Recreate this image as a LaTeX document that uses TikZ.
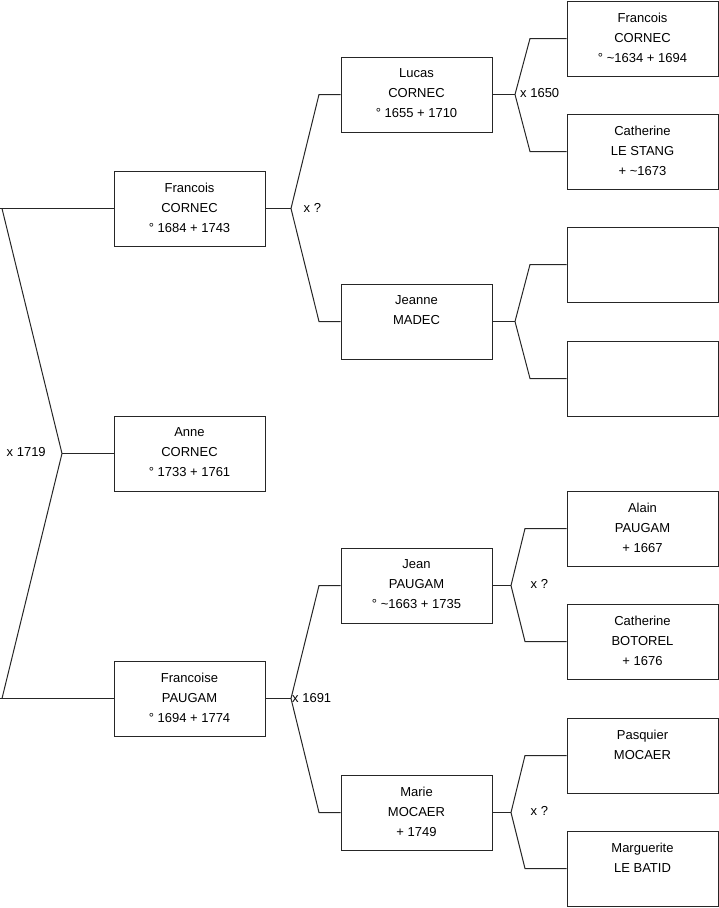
\documentclass[tikz,border=0pt]{standalone}
\usepackage{fontspec}
\setmainfont{Liberation Sans}
\begin{document}
\begin{tikzpicture}[x=1pt,y=-1pt,
  every node/.style={font=\fontsize{13}{20}\selectfont},
  pbox/.style={draw=black!85, line width=1pt, minimum width=151pt, minimum height=75pt, inner sep=0pt},
  ptext/.style={anchor=north, align=center, inner sep=0pt},
  conn/.style={draw=black!85, line width=1pt},
  mlabel/.style={anchor=west, inner sep=0pt}]
\useasboundingbox (0,0) rectangle (719,908);
% generation 1
\node[pbox] (F)  at (189.5,208.5) {};
\node[pbox] (A)  at (189.5,453.5) {};
\node[pbox] (FP) at (189.5,698.5) {};
% generation 2
\node[pbox] (L)  at (416.5,94.5) {};
\node[pbox] (J)  at (416.5,321.5) {};
\node[pbox] (JP) at (416.5,585.5) {};
\node[pbox] (M)  at (416.5,812.5) {};
% generation 3
\node[pbox] (g1) at (642.5,38.5) {};
\node[pbox] (g2) at (642.5,151.5) {};
\node[pbox] (g3) at (642.5,264.5) {};
\node[pbox] (g4) at (642.5,378.5) {};
\node[pbox] (g5) at (642.5,528.5) {};
\node[pbox] (g6) at (642.5,641.5) {};
\node[pbox] (g7) at (642.5,755.5) {};
\node[pbox] (g8) at (642.5,868.5) {};
% texts
\tikzset{tshift/.style={yshift=-12pt}}
\node[ptext] (tF)  at ([tshift]F.north)  {Francois\\CORNEC\\° 1684 + 1743};
\node[ptext] (tA)  at ([tshift]A.north)  {Anne\\CORNEC\\° 1733 + 1761};
\node[ptext] (tFP) at ([tshift]FP.north) {Francoise\\PAUGAM\\° 1694 + 1774};
\node[ptext] (tL)  at ([tshift]L.north)  {Lucas\\CORNEC\\° 1655 + 1710};
\node[ptext] (tJ)  at ([tshift]J.north)  {Jeanne\\MADEC};
\node[ptext] (tJP) at ([tshift]JP.north) {Jean\\PAUGAM\\° \textasciitilde1663 + 1735};
\node[ptext] (tM)  at ([tshift]M.north)  {Marie\\MOCAER\\+ 1749};
\node[ptext] (t1)  at ([tshift]g1.north) {Francois\\CORNEC\\° \textasciitilde1634 + 1694};
\node[ptext] (t2)  at ([tshift]g2.north) {Catherine\\LE STANG\\+ \textasciitilde1673};
\node[ptext] (t5)  at ([tshift]g5.north) {Alain\\PAUGAM\\+ 1667};
\node[ptext] (t6)  at ([tshift]g6.north) {Catherine\\BOTOREL\\+ 1676};
\node[ptext] (t7)  at ([tshift]g7.north) {Pasquier\\MOCAER};
\node[ptext] (t8)  at ([tshift]g8.north) {Marguerite\\LE BATID};
% root fork
\coordinate (r0) at (0,208.5);
\coordinate (r1) at (2,208.5);
\coordinate (ra) at (62,453.5);
\coordinate (r2) at (2,698.5);
\coordinate (r3) at (0,698.5);
\draw[conn] (F.west) -- (r0);
\draw[conn] (r1) -- (ra) -- (r2);
\draw[conn] (ra) -- (A.west);
\draw[conn] (FP.west) -- (r3);
\node[mlabel] (x1719) at (6.5,452) {x 1719};
% forks gen1 -> gen2
\coordinate (fa) at (291,208.5);
\coordinate (fa1) at (319,94.5);
\coordinate (fa2) at (319,321.5);
\draw[conn] (F.east) -- (fa);
\draw[conn] (L.west) -- (fa1) -- (fa) -- (fa2) -- (J.west);
\node[mlabel] (xF) at (303.5,207.5) {x ?};
\coordinate (pa) at (291,698.5);
\coordinate (pa1) at (319,585.5);
\coordinate (pa2) at (319,812.5);
\draw[conn] (FP.east) -- (pa);
\draw[conn] (JP.west) -- (pa1) -- (pa) -- (pa2) -- (M.west);
\node[mlabel] (xFP) at (292,698.5) {x 1691};
% forks gen2 -> gen3
\coordinate (la) at (515,94.5);
\coordinate (la1) at (530,38.5);
\coordinate (la2) at (530,151.5);
\draw[conn] (L.east) -- (la);
\draw[conn] (g1.west) -- (la1) -- (la) -- (la2) -- (g2.west);
\node[mlabel] (xL) at (520,93.5) {x 1650};
\coordinate (ja) at (515,321.5);
\coordinate (ja1) at (530,264.5);
\coordinate (ja2) at (530,378.5);
\draw[conn] (J.east) -- (ja);
\draw[conn] (g3.west) -- (ja1) -- (ja) -- (ja2) -- (g4.west);
\coordinate (jpa) at (511,585.5);
\coordinate (jpa1) at (525,528.5);
\coordinate (jpa2) at (525,641.5);
\draw[conn] (JP.east) -- (jpa);
\draw[conn] (g5.west) -- (jpa1) -- (jpa) -- (jpa2) -- (g6.west);
\node[mlabel] (xJP) at (530.5,584) {x ?};
\coordinate (ma) at (511,812.5);
\coordinate (ma1) at (525,755.5);
\coordinate (ma2) at (525,868.5);
\draw[conn] (M.east) -- (ma);
\draw[conn] (g7.west) -- (ma1) -- (ma) -- (ma2) -- (g8.west);
\node[mlabel] (xM) at (530.5,811) {x ?};
\end{tikzpicture}
\end{document}
